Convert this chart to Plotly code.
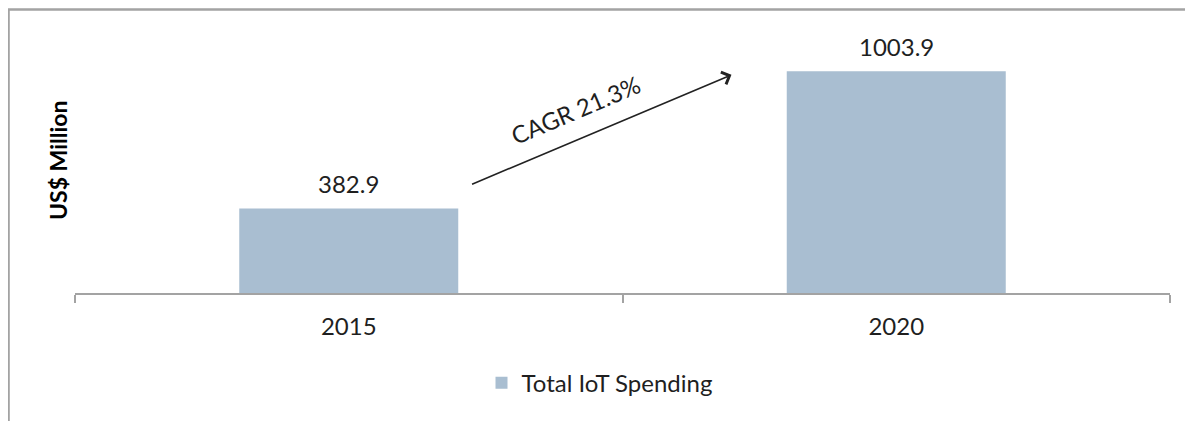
import plotly.graph_objects as go

years = ["2015", "2020"]
spending = [382.9, 1003.9]
series_name = "Total IoT Spending"
cagr_label = "CAGR 21.3%"
y_title = "US$ Million"

BAR_COLOR = "#A9BED1"
LINE_COLOR = "#A3A3A3"
TEXT_COLOR = "#1F1F1F"
FONT = "Lato"
FS = 24

fig = go.Figure()
fig.add_trace(go.Bar(
    x=years, y=spending, name=series_name,
    marker=dict(color=BAR_COLOR, line=dict(width=0)),
    showlegend=True,
))

# value labels above bars (category index positions)
for i, v in enumerate(spending):
    fig.add_annotation(xref="x", yref="y", x=i, y=v, text=f"{v:.1f}", showarrow=False,
                       yanchor="middle", yshift=25,
                       font=dict(family=FONT, size=FS, color=TEXT_COLOR))

fig.update_layout(
    width=1185, height=413,
    margin=dict(l=67, r=23, t=20, b=128),
    paper_bgcolor="white", plot_bgcolor="white",
    bargap=0.6,
    font=dict(family=FONT, color=TEXT_COLOR),
    showlegend=True,
    legend=dict(
        orientation="h", x=0.479, xanchor="center", y=-0.34, yanchor="middle",
        font=dict(family=FONT, size=FS, color=TEXT_COLOR),
        itemwidth=30,
    ),
    xaxis=dict(
        type="category", range=[-0.5, 1.5],
        showline=True, linecolor=LINE_COLOR, linewidth=2,
        ticks="outside", tickson="boundaries", ticklen=8,
        tickcolor=LINE_COLOR, tickwidth=2,
        ticklabelstandoff=11,
        tickfont=dict(family=FONT, size=FS, color=TEXT_COLOR),
        showgrid=False, zeroline=False,
    ),
    yaxis=dict(
        range=[0, 1200], visible=False, showgrid=False, zeroline=False,
    ),
)

# outer frame
fig.add_shape(type="rect", xref="paper", yref="paper",
              x0=-0.0607, x1=1.06, y0=-0.6, y1=1.0698,
              line=dict(color=LINE_COLOR, width=2.5), fillcolor="rgba(0,0,0,0)", layer="below")

# y-axis title
fig.add_annotation(xref="paper", yref="paper", x=-0.0155, y=0.502,
                   text=f"<b>{y_title}</b>", textangle=-90, showarrow=False,
                   xanchor="center", yanchor="middle",
                   font=dict(family=FONT, size=23, color="#000000"))

# CAGR arrow
fig.add_annotation(xref="x", yref="y", x=0.699, y=988, ax=0.2225, ay=490,
                   axref="x", ayref="y", text="", showarrow=True,
                   arrowhead=4, arrowsize=1.6, arrowwidth=1.6, arrowcolor="#222222",
                   standoff=0, startstandoff=0)
fig.add_annotation(xref="x", yref="y", x=0.415, y=830, text=cagr_label,
                   textangle=-23, showarrow=False,
                   font=dict(family=FONT, size=FS, color=TEXT_COLOR))

fig.write_html("out.html")
